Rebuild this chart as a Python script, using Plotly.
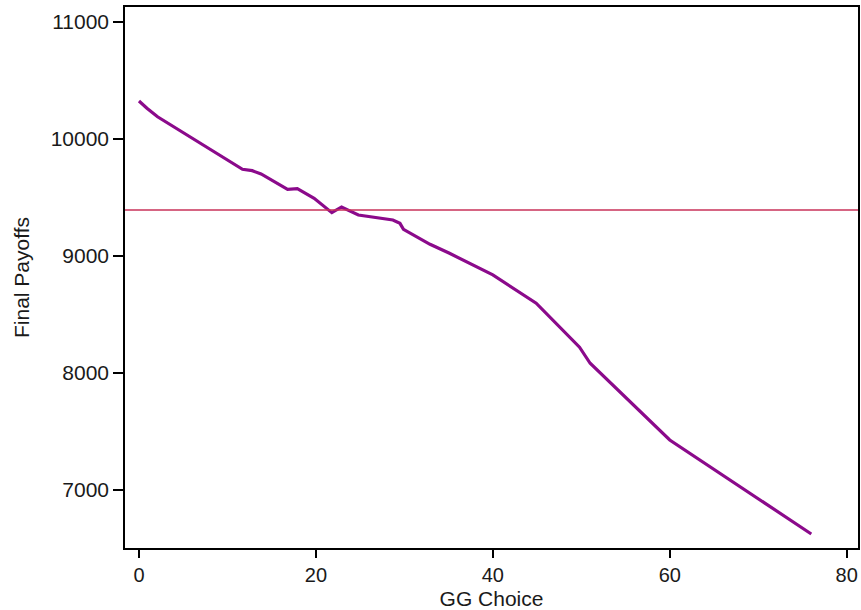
import plotly.graph_objects as go

gg_choice = [0, 0.9, 2.1, 11.7, 12.8, 13.8, 16.8, 17.9, 19.8, 21.8, 22.9, 24.8,
             28.7, 29.5, 29.9, 32.9, 35.1, 40.0, 44.9, 49.8, 51.0, 53.9, 60.0, 76.0]
final_payoffs = [10325, 10263, 10190, 9741, 9729, 9701, 9570, 9575, 9493, 9370, 9419, 9350,
                 9308, 9279, 9228, 9100, 9023, 8838, 8596, 8220, 8083, 7869, 7427, 6624]
reference_payoff = 9393
x_ticks = [0, 20, 40, 60, 80]
x_tick_labels = ["0", "20", "40", "60", "80"]
y_ticks = [7000, 8000, 9000, 10000, 11000]
y_tick_labels = ["7000", "8000", "9000", "10000", "11000"]

fig = go.Figure()
fig.add_trace(go.Scatter(x=gg_choice, y=final_payoffs, mode="lines",
                         line=dict(color="#8b0a8b", width=3.2), showlegend=False))
fig.add_hline(y=reference_payoff, line=dict(color="#c8325a", width=1.5))

fam = "Liberation Sans, Arial, sans-serif"
y_tick_font = dict(family=fam, size=21, color="#1a1a1a")
x_tick_font = dict(family=fam, size=20, color="#1a1a1a")
title_font = dict(family=fam, size=21, color="#1a1a1a")
fig.update_layout(
    width=861, height=610,
    margin=dict(l=125, r=3, t=7, b=62, autoexpand=False),
    paper_bgcolor="white", plot_bgcolor="white",
    font=dict(family=fam, size=21, color="#1a1a1a"),
)
fig.update_xaxes(range=[-1.58, 81.28], tickmode="array", tickvals=x_ticks, ticktext=x_tick_labels,
                 ticks="outside", ticklen=8, tickwidth=1.5,
                 tickcolor="black", showgrid=False, zeroline=False, automargin=False,
                 showline=True, linecolor="black", linewidth=1.5, mirror=True,
                 title=dict(text="GG Choice", font=title_font), tickfont=x_tick_font)
fig.update_yaxes(range=[6504, 11128], tickmode="array", tickvals=y_ticks, ticktext=y_tick_labels,
                 ticks="outside", ticklen=10, tickwidth=1.5,
                 tickcolor="black", showgrid=False, zeroline=False, automargin=False,
                 showline=True, linecolor="black", linewidth=1.5, mirror=True,
                 title=dict(text="Final Payoffs", font=title_font), tickfont=y_tick_font)
fig.write_html("out.html", config={"displayModeBar": False},
               post_script="document.body.style.margin='0';")
